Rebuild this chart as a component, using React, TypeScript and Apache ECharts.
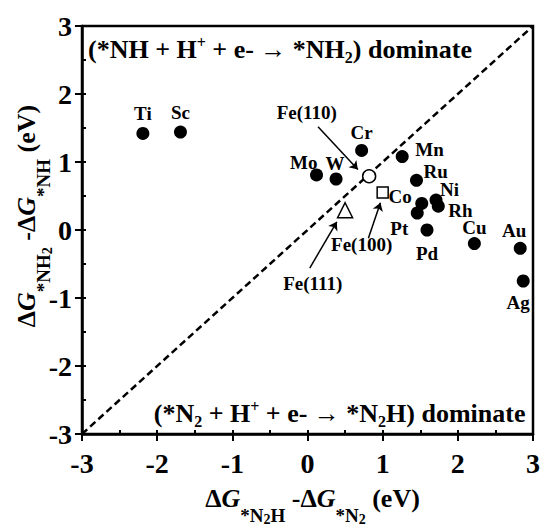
import React, { useEffect, useRef } from "react";
import * as echarts from "echarts";

const FONT = "Liberation Serif, Times New Roman, serif";

// axis ticks
const axisMin = -3;
const axisMax = 3;
const axisStep = 1;

// metal data
const metalNames = ["Ti", "Sc", "Cr", "Mo", "W", "Mn", "Ru", "Co", "Ni", "Rh", "Pt", "Pd", "Cu", "Au", "Ag"];
const metalX = [-2.19, -1.69, 0.72, 0.12, 0.38, 1.26, 1.45, 1.52, 1.71, 1.74, 1.46, 1.59, 2.22, 2.83, 2.87];
const metalY = [1.42, 1.44, 1.17, 0.81, 0.75, 1.08, 0.73, 0.39, 0.44, 0.35, 0.25, 0.0, -0.2, -0.27, -0.75];

// Fe facets
const feNames = ["Fe(110)", "Fe(100)", "Fe(111)"];
const feX = [0.82, 1.0, 0.5];
const feY = [0.79, 0.55, 0.29];

// annotation anchors (data coords)
const feLabelX = [-0.01, 0.72, 0.07];
const feLabelY = [1.73, -0.22, -0.78];
const arrowFromX = [0.14, 0.81, 0.03];
const arrowFromY = [1.52, -0.12, -0.56];
const arrowToX = [0.67, 0.97, 0.39];
const arrowToY = [0.89, 0.4, 0.12];

// region texts
const regionTop = "{t|(*NH + H}{sup|+}{t| + e- → *NH}{sub|2}{t|) dominate}";
const regionBottom = "{t|(*N}{sub|2}{t| + H}{sup|+}{t| + e- → *N}{sub|2}{t|H) dominate}";
const regionX = [-2.92, 2.9];
const regionY = [2.65, -2.7];

// diagonal
const diagX = [-3, 3];
const diagY = [-3, 3];

// label placement (style)
const labelPlace: Record<string, { align: string; offset: [number, number] }> = {
  Ti: { align: "center", offset: [0, -20] },
  Sc: { align: "center", offset: [0, -20] },
  Cr: { align: "center", offset: [0, -18] },
  Mo: { align: "right", offset: [1, -12] },
  W: { align: "center", offset: [-1, -16] },
  Mn: { align: "left", offset: [13, -7] },
  Ru: { align: "left", offset: [7, -9] },
  Co: { align: "right", offset: [-10, -7] },
  Ni: { align: "left", offset: [4, -11] },
  Rh: { align: "left", offset: [10, 4] },
  Pt: { align: "right", offset: [-9, 15] },
  Pd: { align: "center", offset: [0, 23] },
  Cu: { align: "center", offset: [0, -16] },
  Au: { align: "center", offset: [-6, -18] },
  Ag: { align: "center", offset: [-5, 21] },
};

const regionRich = {
  t: { fontFamily: FONT, fontWeight: "bold", fontSize: 26, lineHeight: 30, color: "#000" },
  sup: {
    fontFamily: FONT, fontWeight: "bold", fontSize: 16, height: 16, lineHeight: 1,
    verticalAlign: "top", padding: [0, 0, 0, 0], color: "#000",
  },
  sub: {
    fontFamily: FONT, fontWeight: "bold", fontSize: 16, height: 16, lineHeight: 1,
    verticalAlign: "top", padding: [15, 0, 0, 0], color: "#000",
  },
};

const nameRich = {
  n: { fontFamily: FONT, fontWeight: "bold", fontSize: 26, lineHeight: 30, color: "#000" },
  i: { fontFamily: FONT, fontWeight: "bold", fontStyle: "italic", fontSize: 26, lineHeight: 30, color: "#000" },
  s: {
    fontFamily: FONT, fontWeight: "bold", fontSize: 19, height: 19, lineHeight: 1,
    verticalAlign: "top", padding: [23, 0, 0, 0], color: "#000",
  },
  ss: {
    fontFamily: FONT, fontWeight: "bold", fontSize: 14, height: 14, lineHeight: 1,
    verticalAlign: "top", padding: [29, 0, 0, 0], color: "#000",
  },
};

const xName = "{n|Δ}{i|G}{s|*N}{ss|2}{s|H}{n| -Δ}{i|G}{s|*N}{ss|2}{n| (eV)}";
const yName = "{n|Δ}{i|G}{s|*NH}{ss|2}{n| -Δ}{i|G}{s|*NH}{n| (eV)}";

function App() {
  const ref = useRef<HTMLDivElement>(null);
  useEffect(() => {
    document.body.style.margin = "0";
    if (!ref.current) return;
    const chart = echarts.init(ref.current, undefined, { renderer: "svg" });

    const baseAxis = {
      min: axisMin,
      max: axisMax,
      interval: axisStep,
      type: "value" as const,
      splitLine: { show: false },
    };

    const metalData = metalNames.map((n, i) => ({
      name: n,
      value: [metalX[i], metalY[i]],
      label: {
        show: true,
        formatter: n,
        position: "inside",
        align: labelPlace[n].align,
        verticalAlign: "middle",
        offset: labelPlace[n].offset,
        fontFamily: FONT,
        fontWeight: "bold",
        fontSize: 19,
        color: "#000",
      },
    }));

    const feSymbols = ["circle", "rect", "triangle"];
    const feSizes = [13, 11, 15];

    const option: any = {
      animation: false,
      backgroundColor: "#fff",
      grid: {
        left: 82,
        right: 10,
        top: 26,
        bottom: 92,
        containLabel: false,
        outerBoundsMode: "none",
        show: true,
        borderColor: "#000",
        borderWidth: 2.5,
        backgroundColor: "transparent",
      },
      xAxis: [
        {
          ...baseAxis,
          position: "bottom",
          axisLine: { show: true, onZero: false, lineStyle: { color: "#000", width: 2.5 } },
          axisTick: { show: true, inside: false, length: 7, lineStyle: { color: "#000", width: 2 } },
          axisLabel: { fontFamily: FONT, fontWeight: "bold", fontSize: 28, color: "#000", margin: 15 },
          name: xName,
          nameLocation: "middle",
          nameGap: 49,
          nameMoveOverlap: false,
          nameTextStyle: { rich: nameRich, padding: [0, 0, 0, 10] },
        },
        {
          ...baseAxis,
          position: "bottom",
          axisLine: { show: false, onZero: false },
          axisTick: { show: true, inside: true, length: 4, lineStyle: { color: "#000", width: 2 } },
          minorTick: { show: true, splitNumber: 2, length: 4, lineStyle: { color: "#000", width: 2 } },
          axisLabel: { show: false },
        },
      ],
      yAxis: [
        {
          ...baseAxis,
          position: "left",
          axisLine: { show: true, onZero: false, lineStyle: { color: "#000", width: 2.5 } },
          axisTick: { show: true, inside: false, length: 7, lineStyle: { color: "#000", width: 2 } },
          axisLabel: { fontFamily: FONT, fontWeight: "bold", fontSize: 28, color: "#000", margin: 10 },
          name: yName,
          nameLocation: "middle",
          nameGap: 41,
          nameRotate: 90,
          nameMoveOverlap: false,
          nameTextStyle: { rich: nameRich, padding: [0, 0, 0, 28] },
        },
        {
          ...baseAxis,
          position: "left",
          axisLine: { show: false, onZero: false },
          axisTick: { show: true, inside: true, length: 4, lineStyle: { color: "#000", width: 2 } },
          minorTick: { show: true, splitNumber: 2, length: 4, lineStyle: { color: "#000", width: 2 } },
          axisLabel: { show: false },
        },
      ],
      series: [
        {
          type: "line",
          data: diagX.map((x, i) => [x, diagY[i]]),
          symbol: "none",
          silent: true,
          lineStyle: { color: "#000", width: 2.5, type: [7, 4] },
          z: 1,
        },
        {
          type: "scatter",
          data: metalData,
          symbol: "circle",
          symbolSize: 13,
          itemStyle: { color: "#000", opacity: 1 },
          z: 3,
        },
        ...feNames.map((n, i) => ({
          type: "scatter",
          name: n,
          data: [[feX[i], feY[i]]],
          symbol: feSymbols[i],
          symbolSize: feSizes[i],
          itemStyle: { color: "#fff", borderColor: "#000", borderWidth: 1.5, opacity: 1 },
          z: 4,
        })),
        {
          type: "scatter",
          data: feNames.map((n, i) => ({
            value: [feLabelX[i], feLabelY[i]],
            label: {
              show: true,
              formatter: n,
              position: "inside",
              align: "center",
              verticalAlign: "middle",
              fontFamily: FONT,
              fontWeight: "bold",
              fontSize: 19,
              color: "#000",
              opacity: 1,
            },
          })),
          symbolSize: 0,
          itemStyle: { opacity: 1, color: "#000" },
          silent: true,
          markLine: {
            silent: true,
            symbol: ["none", "arrow"],
            symbolSize: 8,
            label: { show: false },
            lineStyle: { color: "#000", width: 1.5, type: "solid", opacity: 1 },
            data: feNames.map((_, i) => [
              { coord: [arrowFromX[i], arrowFromY[i]] },
              { coord: [arrowToX[i], arrowToY[i]] },
            ]),
          },
          z: 5,
        },
        {
          type: "scatter",
          data: [regionTop, regionBottom].map((t, i) => ({
            value: [regionX[i], regionY[i]],
            label: {
              show: true,
              formatter: t,
              position: "inside",
              align: i === 0 ? "left" : "right",
              verticalAlign: "middle",
              opacity: 1,
              rich: regionRich,
            },
          })),
          symbolSize: 0,
          itemStyle: { opacity: 1, color: "#000" },
          silent: true,
          z: 5,
        },
      ],
    };

    chart.setOption(option);
    return () => chart.dispose();
  }, []);

  return <div ref={ref} style={{ width: 543, height: 526 }} />;
}

export default App;
